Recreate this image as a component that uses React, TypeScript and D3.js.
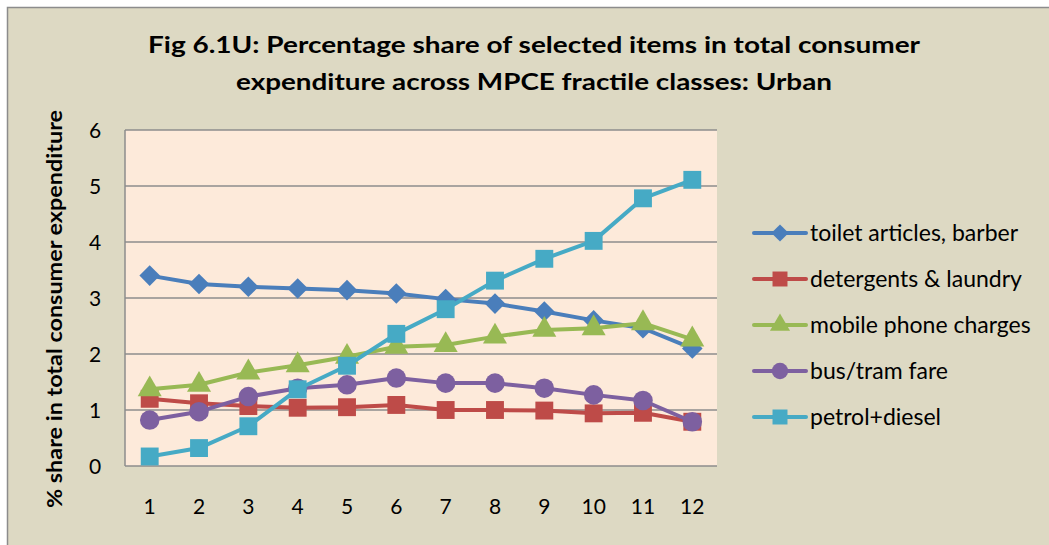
import * as d3 from "d3";

const classes = ["1", "2", "3", "4", "5", "6", "7", "8", "9", "10", "11", "12"];
const toilet = [3.4, 3.25, 3.2, 3.17, 3.14, 3.08, 2.98, 2.9, 2.76, 2.6, 2.46, 2.1];
const detergents = [1.2, 1.12, 1.07, 1.04, 1.05, 1.09, 1.0, 1.0, 0.99, 0.94, 0.95, 0.79];
const mobile = [1.37, 1.45, 1.67, 1.8, 1.95, 2.13, 2.16, 2.31, 2.43, 2.46, 2.55, 2.26];
const bus = [0.82, 0.97, 1.24, 1.39, 1.45, 1.57, 1.48, 1.48, 1.39, 1.27, 1.17, 0.79];
const petrol = [0.17, 0.32, 0.71, 1.37, 1.79, 2.36, 2.8, 3.31, 3.7, 4.02, 4.78, 5.11];
const yTicks = [0, 1, 2, 3, 4, 5, 6];

const seriesNames = [
  "toilet articles, barber",
  "detergents & laundry",
  "mobile phone charges",
  "bus/tram fare",
  "petrol+diesel",
];
const seriesValues = [toilet, detergents, mobile, bus, petrol];
const colors = ["#4A7EBB", "#BE4B48", "#98B954", "#7D60A0", "#46AAC5"];
const shapes = [d3.symbolDiamond2, d3.symbolSquare, d3.symbolTriangle, d3.symbolCircle, d3.symbolSquare];
const sizes = [270, 320, 250, 300, 320];

const W = 1049, H = 545;
const plot = { left: 125, right: 717, top: 130, bottom: 466 };
const font = "Lato, 'Open Sans', sans-serif";

export default function App() {
  const x = d3
    .scalePoint()
    .domain(classes)
    .range([plot.left + 24.7, plot.right - 24.7]);
  const y = d3.scaleLinear().domain([0, 6]).range([plot.bottom, plot.top]);
  const line = d3
    .line<number>()
    .x((d, i) => x(classes[i]) as number)
    .y((d) => y(d));

  return (
    <div style={{ position: "absolute", left: 0, top: 0 }}>
      <svg width={W} height={H} style={{ display: "block" }}>
        <rect x={0} y={0} width={W} height={H} fill="#fff" />
        <rect x={7.5} y={7.5} width={W + 10} height={H + 10} fill="#DDD9C3" stroke="#8c8c8c" strokeWidth={1.5} />
        <text x={534} y={53} textAnchor="middle" fontFamily={font} fontWeight="bold" fontSize={22} fill="#000" textLength={772} lengthAdjust="spacingAndGlyphs">
          Fig 6.1U: Percentage share of selected items in total consumer
        </text>
        <text x={534} y={90} textAnchor="middle" fontFamily={font} fontWeight="bold" fontSize={22} fill="#000" textLength={596} lengthAdjust="spacingAndGlyphs">
          expenditure across MPCE fractile classes: Urban
        </text>
        <rect x={plot.left} y={plot.top} width={plot.right - plot.left} height={plot.bottom - plot.top} fill="#FDEADA" />
        {yTicks.map((t) => (
          <g key={t}>
            <line x1={plot.left} x2={plot.right} y1={y(t)} y2={y(t)} stroke="#8c8c8c" strokeWidth={1.5} />
            <text x={95} y={y(t) + 7.5} textAnchor="middle" fontFamily={font} fontSize={21} fill="#000">
              {t}
            </text>
          </g>
        ))}
        <line x1={plot.left} x2={plot.left} y1={plot.top} y2={plot.bottom} stroke="#8c8c8c" strokeWidth={1.5} />
        {classes.map((c) => (
          <text key={c} x={x(c)} y={514} textAnchor="middle" fontFamily={font} fontSize={21} fill="#000">
            {c}
          </text>
        ))}
        <text
          transform="translate(62,309) rotate(-90)"
          textAnchor="middle"
          fontFamily={font}
          fontWeight="bold"
          fontSize={20}
          fill="#000"
          textLength={398}
          lengthAdjust="spacingAndGlyphs"
        >
          % share in total consumer expenditure
        </text>
        {seriesValues.map((vals, s) => (
          <g key={seriesNames[s]}>
            <path d={line(vals) as string} fill="none" stroke={colors[s]} strokeWidth={4} strokeLinejoin="round" />
            {vals.map((v, i) => (
              <path
                key={i}
                transform={`translate(${x(classes[i])},${y(v)})`}
                d={d3.symbol(shapes[s], sizes[s])() as string}
                fill={colors[s]}
              />
            ))}
          </g>
        ))}
        {seriesNames.map((n, s) => {
          const ly = 233 + s * 46;
          return (
            <g key={n}>
              <line x1={754} x2={806} y1={ly} y2={ly} stroke={colors[s]} strokeWidth={4} strokeLinecap="round" />
              <path transform={`translate(780,${ly})`} d={d3.symbol(shapes[s], sizes[s] * 0.7)() as string} fill={colors[s]} />
              <text x={810} y={ly + 8} fontFamily={font} fontSize={23} fill="#000">
                {n}
              </text>
            </g>
          );
        })}
      </svg>
    </div>
  );
}
